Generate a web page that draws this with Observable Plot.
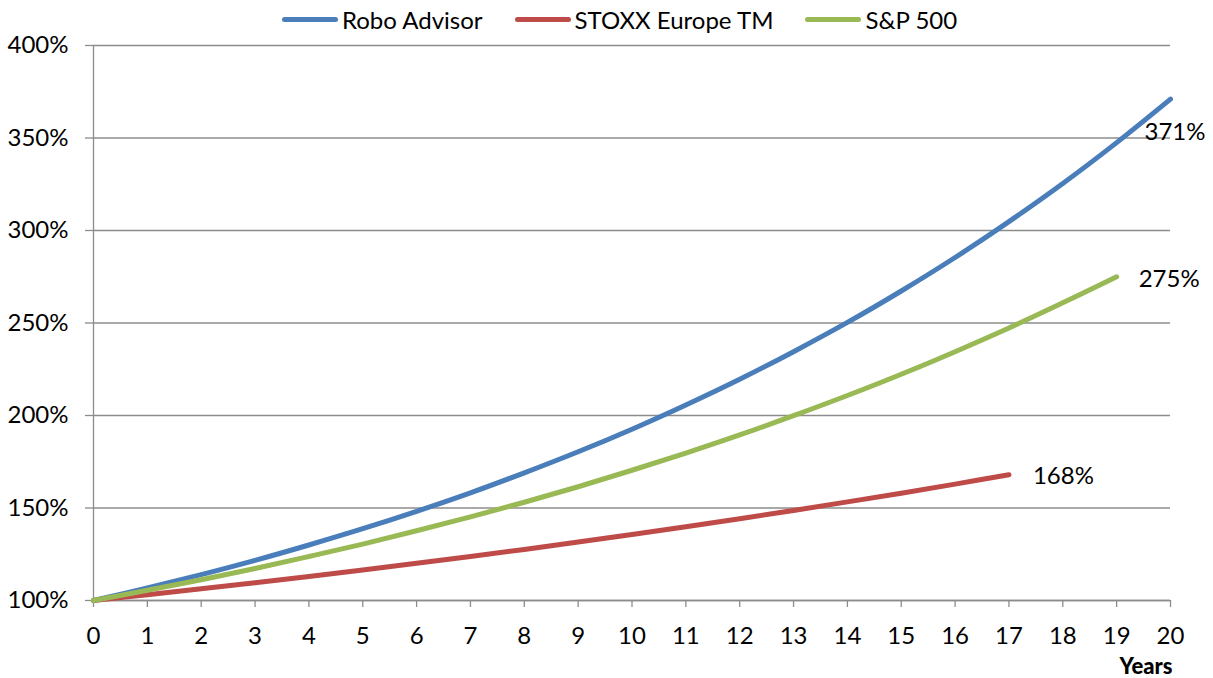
<!DOCTYPE html>
<html>
<head>
<meta charset="utf-8">
<script src="https://cdn.jsdelivr.net/npm/d3@7"></script>
<script src="https://cdn.jsdelivr.net/npm/@observablehq/plot@0.6"></script>
<style>
  body { margin: 0; background: #fff; font-family: Lato, "Liberation Sans", sans-serif; }
  #legend { height: 22px; padding-top: 8px; padding-left: 282px; display: flex; align-items: center; font-size: 24px; color: #000; }
  .item { display: flex; align-items: center; margin-right: 32px; }
  .sw { width: 56px; height: 5px; border-radius: 3px; margin-right: 4px; }
</style>
</head>
<body>
<div id="legend"></div>
<div id="chart"></div>
<script>
const seriesNames = ["Robo Advisor", "STOXX Europe TM", "S&P 500"];
const seriesColors = ["#4a7ebb", "#be4b48", "#98b954"];
const years = [0,1,2,3,4,5,6,7,8,9,10,11,12,13,14,15,16,17,18,19,20];
const robo  = [100,106.8,114,121.7,130,138.8,148.2,158.2,169,180.4,192.6,205.7,219.6,234.5,250.3,267.3,285.4,304.8,325.4,347.5,371];
const stoxx = [100,103.1,106.3,109.6,113,116.5,120.1,123.8,127.6,131.6,135.7,139.9,144.2,148.7,153.3,158,162.9,168];
const sp500 = [100,105.5,111.2,117.3,123.8,130.5,137.7,145.2,153.1,161.5,170.4,179.7,189.5,199.9,210.8,222.3,234.5,247.3,260.9,275];
const yTicks = [100,150,200,250,300,350,400];
const xTicks = years;
const xLabel = "Years";

const seriesValues = [robo, stoxx, sp500];
const data = [];
seriesValues.forEach((vals, i) => vals.forEach((v, j) => data.push({series: seriesNames[i], year: years[j], value: v})));
const ends = seriesValues.map((vals, i) => ({series: seriesNames[i], year: years[vals.length - 1], value: vals[vals.length - 1]}));
const endOffsets = {"Robo Advisor": [-26, 33], "STOXX Europe TM": [24, 2], "S&P 500": [22, 3]};

// legend
const legend = document.getElementById("legend");
seriesNames.forEach((n, i) => {
  const it = document.createElement("div"); it.className = "item";
  const sw = document.createElement("div"); sw.className = "sw"; sw.style.background = seriesColors[i];
  const t = document.createElement("span"); t.textContent = n;
  it.appendChild(sw); it.appendChild(t); legend.appendChild(it);
});

const grid = "#8c8c8c";
const chart = Plot.plot({
  width: 1213, height: 648,
  marginTop: 15, marginBottom: 78, marginLeft: 93, marginRight: 43,
  x: {domain: [0, 20]},
  y: {domain: [100, 400]},
  color: {domain: seriesNames, range: seriesColors},
  style: {fontFamily: "Lato, 'Liberation Sans', sans-serif", fontSize: "24px", color: "#000", background: "#fff"},
  marks: [
    Plot.gridY(yTicks, {stroke: grid, strokeOpacity: 1, strokeWidth: 1.3}),
    Plot.axisY(yTicks, {tickFormat: d => d + "%", tickSize: 8, tickPadding: 17, stroke: grid, strokeWidth: 1.3, label: null, fontSize: 24}),
    Plot.axisX(xTicks, {tickSize: 7, tickPadding: 19, stroke: grid, strokeWidth: 1.3, label: null, fontSize: 24}),
    Plot.ruleX([0], {stroke: grid, strokeWidth: 1.3}),
    Plot.ruleY([100], {stroke: grid, strokeWidth: 1.3}),
    Plot.line(data, {x: "year", y: "value", z: "series", stroke: "series", strokeWidth: 5, strokeLinecap: "round", strokeLinejoin: "round", curve: "catmull-rom"}),
    ...ends.map(e => Plot.text([e], {x: "year", y: "value", text: d => d.value + "%", textAnchor: "start", dx: endOffsets[e.series][0], dy: endOffsets[e.series][1], fontSize: 24, fill: "#000"})),
    Plot.text([xLabel], {frameAnchor: "bottom-right", text: d => d, fontWeight: "900", fontSize: 22, dx: 2, dy: 73, textAnchor: "end", fill: "#000"})
  ]
});
document.getElementById("chart").appendChild(chart);
</script>
</body>
</html>
